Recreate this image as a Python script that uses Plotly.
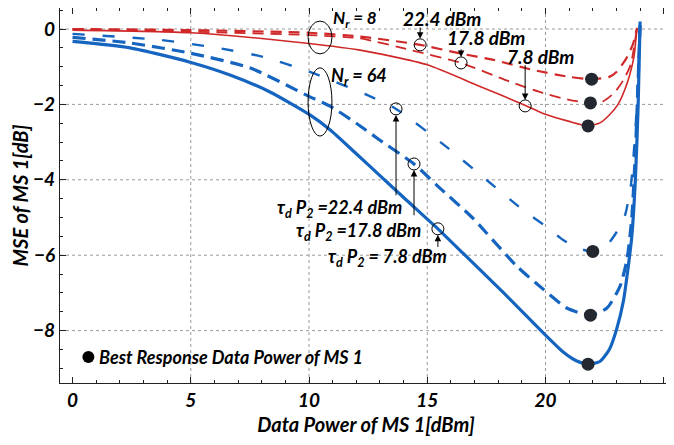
import plotly.graph_objects as go

# ---------------- data ----------------
# Nr = 64 (blue)
b78_x = [0, 2.43, 4.97, 6.66, 8.35, 10.04, 10.9, 12, 13, 14, 15.45, 16.5, 18.2, 20, 20.75, 21.3, 21.8, 22.3, 22.7, 23.0, 23.3, 23.5, 23.65, 23.8, 23.92, 24.0]
b78_y = [-0.33, -0.5, -0.88, -1.22, -1.67, -2.28, -2.68, -3.31, -3.89, -4.47, -5.3, -5.94, -6.98, -8.12, -8.57, -8.8, -8.89, -8.82, -8.5, -7.98, -7.2, -6.3, -5.5, -4.0, -2.0, 0.2]

b178_x = [0, 2.43, 4.97, 7.5, 10.04, 10.9, 12, 13, 14.44, 15.5, 16.9, 18.8, 19.9, 20.9, 21.9, 22.6, 23.15, 23.45, 23.65, 23.82, 24.0]
b178_y = [-0.22, -0.37, -0.64, -1.03, -1.8, -2.05, -2.5, -2.95, -3.58, -4.2, -5.0, -6.3, -6.9, -7.4, -7.59, -7.4, -6.83, -6.1, -5.0, -3.0, 0.1]

b224_x = [0, 3.7, 6.1, 8.06, 10.04, 12.45, 13.68, 15.8, 17.5, 19.05, 20.05, 20.75, 21.4, 22.0, 22.6, 23.3, 23.6, 23.82, 24.0]
b224_y = [-0.13, -0.29, -0.5, -0.74, -1.14, -1.75, -2.12, -3.12, -4.0, -4.8, -5.25, -5.6, -5.82, -5.9, -5.73, -5.07, -4.2, -2.5, 0.1]

# Nr = 8 (red)
r78_x = [0, 5, 9.2, 12.16, 15, 17.1, 19.13, 19.9, 21.0, 21.8, 22.3, 22.7, 23.07, 23.36, 23.57, 23.74, 23.87]
r78_y = [-0.03, -0.1, -0.33, -0.56, -0.95, -1.49, -2.02, -2.24, -2.45, -2.57, -2.49, -2.28, -2.0, -1.6, -1.2, -0.74, 0.03]

r178_x = [0, 5, 10, 12.16, 14.3, 16.43, 18.5, 19.9, 21.0, 21.9, 22.4, 22.9, 23.3, 23.6, 23.87]
r178_y = [0, -0.07, -0.16, -0.25, -0.56, -0.9, -1.4, -1.7, -1.88, -1.96, -1.93, -1.7, -1.35, -0.95, 0.03]

r224_x = [0, 5, 10, 12.16, 14.7, 16.4, 17.8, 19.5, 21.0, 21.95, 22.7, 23.0, 23.4, 23.7, 23.87]
r224_y = [0, -0.03, -0.1, -0.2, -0.42, -0.65, -0.82, -1.09, -1.27, -1.33, -1.27, -1.14, -0.8, -0.4, 0.03]

# best response points
best_x = [21.95, 21.9, 21.8, 22.0, 21.9, 21.8]
best_y = [-1.33, -1.96, -2.57, -5.9, -7.59, -8.89]

# marked (open circle) points
mark_x = [14.7, 16.43, 19.14, 13.68, 14.44, 15.45]
mark_y = [-0.42, -0.9, -2.04, -2.12, -3.58, -5.3]

x_ticks = [0, 5, 10, 15, 20, 25]
y_ticks = [0, -2, -4, -6, -8]

BLUE = "#1565c0"
RED = "#d02828"
DOT = "#23272f"
FONT = "Lato"

fig = go.Figure()

def add_line(x, y, color, width, dash):
    fig.add_trace(go.Scatter(x=x, y=y, mode="lines",
                             line=dict(color=color, width=width, dash=dash, shape="spline", smoothing=0.6),
                             showlegend=False, hoverinfo="skip"))

add_line(r224_x, r224_y, RED, 2.2, "11px,7px")
add_line(r178_x, r178_y, RED, 1.8, "11px,7px")
add_line(r78_x, r78_y, RED, 1.6, "solid")
add_line(b224_x, b224_y, BLUE, 2.4, "12px,18px")
add_line(b178_x, b178_y, BLUE, 3.2, "13px,7px")
add_line(b78_x, b78_y, BLUE, 3.2, "solid")

fig.add_trace(go.Scatter(x=best_x, y=best_y, mode="markers",
                         marker=dict(color=DOT, size=13), showlegend=False, hoverinfo="skip"))
fig.add_trace(go.Scatter(x=mark_x, y=mark_y, mode="markers",
                         marker=dict(symbol="circle-open", color="black", size=12, line=dict(width=1)),
                         showlegend=False, hoverinfo="skip"))
# legend-like marker
fig.add_trace(go.Scatter(x=[0.67], y=[-8.7], mode="markers",
                         marker=dict(color="black", size=12), showlegend=False, hoverinfo="skip"))

# grid lines as shapes
for gx in [5, 10, 15, 20]:
    fig.add_shape(type="line", x0=gx, x1=gx, y0=0, y1=1, xref="x", yref="paper",
                  line=dict(color="#9a9a9a", width=1, dash="3px,3px"), layer="below")
for gy in y_ticks:
    fig.add_shape(type="line", x0=0, x1=1, y0=gy, y1=gy, xref="paper", yref="y",
                  line=dict(color="#9a9a9a", width=1, dash="3px,3px"), layer="below")

# ellipses
fig.add_shape(type="circle", x0=9.96, x1=10.97, y0=0.21, y1=-0.66, line=dict(color="black", width=1))
fig.add_shape(type="circle", x0=9.96, x1=10.97, y0=-1.03, y1=-2.84, line=dict(color="black", width=1))

def text(x, y, s, size=19, anchor="center"):
    fig.add_annotation(x=x, y=y, text=s, showarrow=False, borderpad=0,
                       font=dict(family=FONT, size=size, color="black", weight="bold", style="italic"),
                       xanchor=anchor, yanchor="middle")

text(15.63, 0.27, "22.4 dBm", size=19)
text(17.48, -0.23, "17.8 dBm", size=19)
text(19.81, -0.72, "7.8 dBm", size=19)
text(11.95, 0.26, "N<sub>r</sub> = 8", size=17)
text(12.1, -1.25, "N<sub>r</sub> = 64", size=18)
text(11.31, -4.77, "τ<sub>d</sub> P<sub>2</sub> =22.4 dBm", size=18)
text(12.11, -5.36, "τ<sub>d</sub> P<sub>2</sub> =17.8 dBm", size=18)
text(13.3, -6.07, "τ<sub>d</sub> P<sub>2</sub> = 7.8 dBm", size=18)
text(1.08, -8.7, "Best Response Data Power of MS 1", size=18, anchor="left")

def arrow(hx, hy, tx, ty):
    fig.add_annotation(x=hx, y=hy, ax=tx, ay=ty, xref="x", yref="y", axref="x", ayref="y",
                       text="", showarrow=True, arrowhead=2, arrowsize=1.3, arrowwidth=1,
                       arrowcolor="black", standoff=6)

arrow(14.7, -0.42, 14.7, 0.08)
arrow(16.43, -0.9, 16.43, -0.5)
arrow(19.14, -2.04, 19.14, -0.92)
arrow(13.68, -2.12, 13.68, -4.45)
arrow(14.44, -3.58, 14.44, -4.98)
arrow(15.45, -5.3, 15.45, -5.82)

tickfont = dict(family=FONT, size=19, color="black", weight="bold", style="italic")
titlefont = dict(family=FONT, size=20, color="black", weight="bold", style="italic")

fig.update_xaxes(range=[-0.53, 25.35], tickvals=x_ticks, ticktext=[str(v) for v in x_ticks],
                 showgrid=False, zeroline=False, showline=True, linecolor="#222", linewidth=1.3, mirror="allticks",
                 ticks="inside", ticklen=6, tickcolor="#222", automargin=False,
                 minor=dict(dtick=1, ticks="inside", ticklen=3, tickcolor="#222", showgrid=False),
                 tickfont=tickfont,
                 title=dict(text="Data Power of MS 1[dBm]", font=titlefont, standoff=8))
fig.update_yaxes(range=[-9.39, 0.557], tickvals=y_ticks, ticktext=["0", "−2", "−4", "−6", "−8"],
                 showgrid=False, zeroline=False, showline=True, linecolor="#222", linewidth=1.3, mirror="allticks",
                 ticks="inside", ticklen=6, tickcolor="#222", automargin=False,
                 minor=dict(dtick=0.5, tick0=0, ticks="inside", ticklen=3, tickcolor="#222", showgrid=False),
                 tickfont=tickfont,
                 title=dict(text="MSE of MS 1[dB]", font=titlefont, standoff=6))

fig.update_layout(width=666, height=437, margin=dict(l=52, r=2, t=0, b=62, autoexpand=False),
                  plot_bgcolor="white", paper_bgcolor="white", font=dict(family=FONT))

fig.write_html("out.html")
